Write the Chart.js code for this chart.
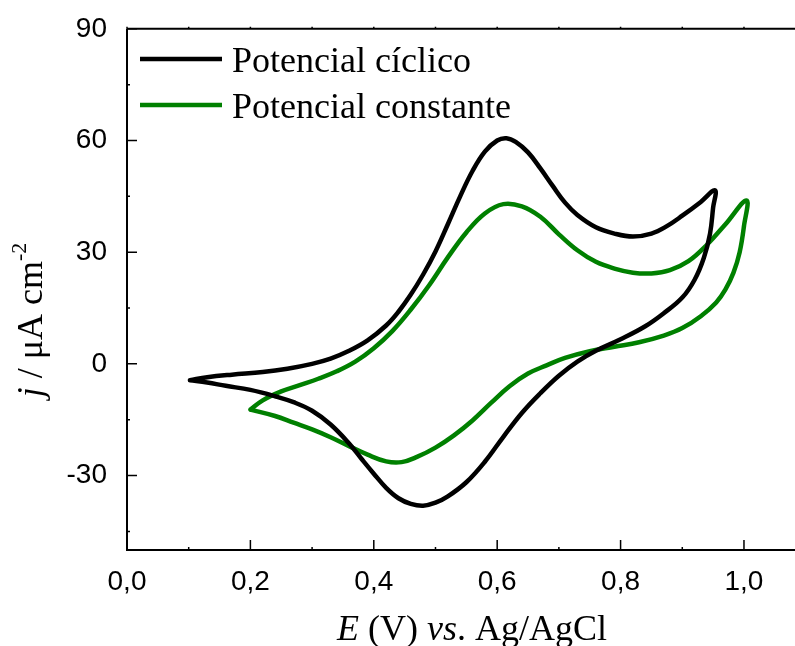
<!DOCTYPE html>
<html>
<head>
<meta charset="utf-8">
<script src="https://cdn.jsdelivr.net/npm/chart.js@4"></script>
<style>
  html, body { margin: 0; padding: 0; background: #fff; }
</style>
</head>
<body>
<canvas id="cvChart" width="795" height="646"></canvas>
<script>
// values (E in V, j in uA cm-2)
var cyclicE = [0.102, 0.13, 0.17, 0.22, 0.26, 0.30, 0.33, 0.36, 0.39, 0.42, 0.44, 0.46, 0.48, 0.50, 0.52, 0.54, 0.56, 0.58, 0.60, 0.615, 0.63, 0.65, 0.67, 0.69, 0.71, 0.73, 0.76, 0.79, 0.82, 0.85, 0.875, 0.90, 0.93, 0.953,
  0.95, 0.945, 0.935, 0.92, 0.90, 0.87, 0.84, 0.80, 0.76, 0.73, 0.70, 0.67, 0.64, 0.61, 0.58, 0.55, 0.52, 0.50, 0.48, 0.46, 0.44, 0.42, 0.40, 0.38, 0.36, 0.33, 0.30, 0.27, 0.24, 0.20, 0.16, 0.13, 0.102];
var cyclicJ = [-4.4, -3.6, -2.9, -2.2, -1.3, 0.0, 1.4, 3.5, 6.3, 10.3, 14.0, 18.6, 24.0, 30.2, 37.5, 45.0, 51.8, 57.0, 60.0, 60.6, 59.6, 56.8, 52.5, 47.8, 43.3, 40.0, 36.7, 35.0, 34.2, 35.0, 37.0, 39.8, 43.5, 46.6,
  42.0, 35.0, 28.5, 22.6, 17.8, 13.6, 10.1, 6.6, 3.5, 0.6, -3.2, -7.9, -13.2, -19.6, -26.3, -31.8, -35.6, -37.3, -38.1, -37.6, -36.1, -33.3, -29.5, -25.5, -21.4, -16.3, -12.6, -10.3, -8.7, -7.0, -5.9, -5.0, -4.4];

var constE = [0.2, 0.22, 0.25, 0.28, 0.31, 0.34, 0.37, 0.40, 0.43, 0.46, 0.49, 0.52, 0.55, 0.58, 0.61, 0.64, 0.67, 0.70, 0.73, 0.76, 0.79, 0.82, 0.85, 0.88, 0.91, 0.94, 0.97, 1.004,
  1.0, 0.993, 0.983, 0.97, 0.955, 0.93, 0.90, 0.87, 0.83, 0.79, 0.75, 0.71, 0.68, 0.65, 0.62, 0.59, 0.56, 0.53, 0.50, 0.47, 0.445, 0.42, 0.39, 0.36, 0.33, 0.30, 0.27, 0.24, 0.2];
var constJ = [-12.3, -9.8, -7.4, -5.7, -4.0, -2.0, 0.6, 4.2, 8.8, 14.6, 21.2, 28.6, 35.3, 40.4, 42.9, 42.3, 39.5, 34.8, 30.5, 27.4, 25.6, 24.5, 24.3, 25.2, 27.6, 32.0, 37.5, 43.9,
  37.0, 30.0, 24.5, 20.0, 16.5, 12.8, 9.6, 7.6, 5.8, 4.6, 3.4, 1.6, -0.4, -2.6, -6.0, -10.5, -15.2, -19.2, -22.5, -25.0, -26.4, -26.2, -24.4, -22.1, -19.7, -17.6, -15.8, -14.0, -12.3];

var seriesNames = ["Potencial cíclico", "Potencial constante"];
var seriesColors = ["#000000", "#008000"];

var xTicks = [0, 0.2, 0.4, 0.6, 0.8, 1.0];
var xMinor = [0.1, 0.3, 0.5, 0.7, 0.9];
var yTicks = [-30, 0, 30, 60, 90];
var yMinor = [-45, -15, 15, 45, 75];

function toPoints(xs, ys) {
  return xs.map(function (x, i) { return { x: x, y: ys[i] }; });
}

// axes frame, inward ticks, legend and titles
var decor = {
  id: "decor",
  afterDraw: function (chart) {
    var c = chart.ctx, a = chart.chartArea;
    var xs = chart.scales.x, ys = chart.scales.y;
    c.save();
    c.strokeStyle = "#000";
    c.lineWidth = 2;
    c.beginPath();
    c.moveTo(a.left, a.top); c.lineTo(a.left, a.bottom); c.lineTo(a.right, a.bottom);
    c.moveTo(a.left, a.top); c.lineTo(a.right, a.top);
    c.stroke();

    c.lineWidth = 1.5;
    c.beginPath();
    xTicks.forEach(function (v) {
      var px = xs.getPixelForValue(v);
      c.moveTo(px, a.bottom); c.lineTo(px, a.bottom - 10);
    });
    xMinor.forEach(function (v) {
      var px = xs.getPixelForValue(v);
      c.moveTo(px, a.bottom); c.lineTo(px, a.bottom - 3);
    });
    xTicks.concat(xMinor).forEach(function (v) {
      var px = xs.getPixelForValue(v);
      c.moveTo(px, a.top); c.lineTo(px, a.top - 2);
    });
    yTicks.forEach(function (v) {
      var py = ys.getPixelForValue(v);
      c.moveTo(a.left, py); c.lineTo(a.left + 10, py);
    });
    yMinor.forEach(function (v) {
      var py = ys.getPixelForValue(v);
      c.moveTo(a.left, py); c.lineTo(a.left + 3, py);
    });
    c.stroke();

    // legend
    c.textBaseline = "alphabetic";
    c.textAlign = "left";
    c.font = "36px 'Liberation Serif'";
    chart.data.datasets.forEach(function (ds, i) {
      var ly = 59 + i * 46;
      c.strokeStyle = ds.borderColor;
      c.lineWidth = 4.5;
      c.beginPath(); c.moveTo(140, ly); c.lineTo(222, ly); c.stroke();
      c.fillStyle = "#000";
      c.fillText(ds.label, 232, ly + 13);
    });

    // x title: E (V) vs. Ag/AgCl
    var parts = [["italic ", "E"], ["", " (V) "], ["italic ", "vs"], ["", ". Ag/AgCl"]];
    var w = 0;
    parts.forEach(function (p) { c.font = p[0] + "36px 'Liberation Serif'"; w += c.measureText(p[1]).width; });
    var tx = 472 - w / 2;
    parts.forEach(function (p) {
      c.font = p[0] + "36px 'Liberation Serif'";
      c.fillText(p[1], tx, 640);
      tx += c.measureText(p[1]).width;
    });

    // y title: j / uA cm^-2
    c.save();
    c.translate(42, 320);
    c.rotate(-Math.PI / 2);
    var yp = [["italic ", "j", 36, 0], ["", " / μA cm", 36, 0], ["", "-2", 22, -16]];
    var yw = 0;
    yp.forEach(function (p) { c.font = p[0] + p[2] + "px 'Liberation Serif'"; yw += c.measureText(p[1]).width; });
    var ox = -yw / 2;
    yp.forEach(function (p) {
      c.font = p[0] + p[2] + "px 'Liberation Serif'";
      c.fillText(p[1], ox, p[3]);
      ox += c.measureText(p[1]).width;
    });
    c.restore();
    c.restore();
  }
};

var ctx = document.getElementById("cvChart").getContext("2d");
var cvChart = new Chart(ctx, {
  type: "scatter",
  data: {
    datasets: [
      {
        label: seriesNames[0],
        data: toPoints(cyclicE, cyclicJ),
        borderColor: seriesColors[0],
        backgroundColor: seriesColors[0],
      },
      {
        label: seriesNames[1],
        data: toPoints(constE, constJ),
        borderColor: seriesColors[1],
        backgroundColor: seriesColors[1],
      },
    ],
  },
  options: {
    responsive: false,
    animation: false,
    showLine: true,
    elements: {
      point: { radius: 0, hoverRadius: 0 },
      line: { borderWidth: 4.5, tension: 0.4, fill: false, borderCapStyle: "round", borderJoinStyle: "round" },
    },
    layout: { padding: { top: 28, right: 0, left: 0, bottom: 0 } },
    plugins: { legend: { display: false }, tooltip: { enabled: false } },
    scales: {
      x: {
        type: "linear",
        min: 0,
        max: 1.0827,
        grid: { display: false },
        border: { display: false },
        afterBuildTicks: function (s) { s.ticks = xTicks.map(function (v) { return { value: v }; }); },
        afterFit: function (s) { s.height = 96; },
        ticks: {
          padding: 7,
          color: "#000",
          font: { family: "'Liberation Sans'", size: 28 },
          maxRotation: 0,
          callback: function (v) { return v.toFixed(1).replace(".", ","); },
        },
      },
      y: {
        type: "linear",
        min: -50,
        max: 90,
        grid: { display: false },
        border: { display: false },
        afterBuildTicks: function (s) { s.ticks = yTicks.map(function (v) { return { value: v }; }); },
        afterFit: function (s) { s.width = 127; },
        ticks: {
          padding: 12,
          color: "#000",
          font: { family: "'Liberation Sans'", size: 28 },
          callback: function (v) { return String(v); },
        },
      },
    },
  },
  plugins: [decor],
});
</script>
</body>
</html>
